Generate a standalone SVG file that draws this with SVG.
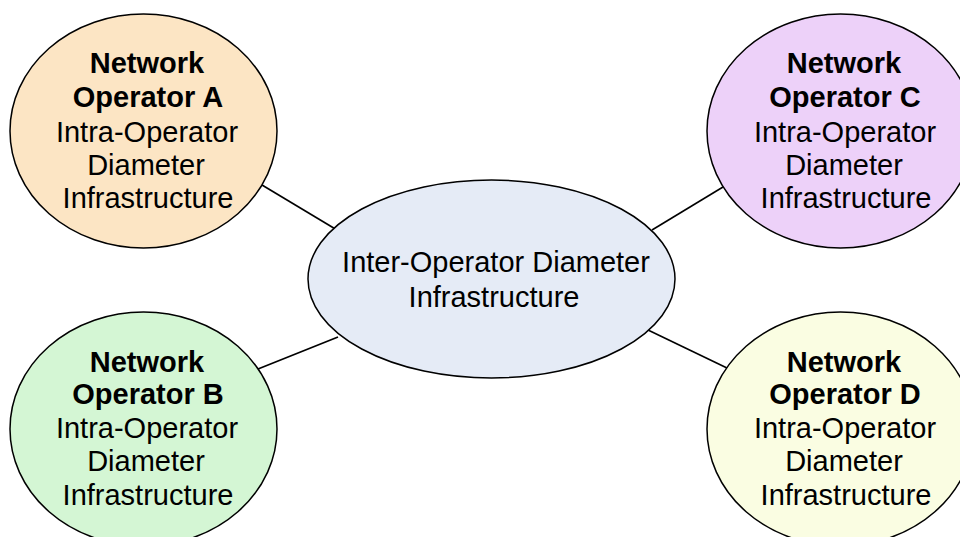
<svg xmlns="http://www.w3.org/2000/svg" width="960" height="537" viewBox="0 0 960 537">
<style>
.node{stroke:#000;stroke-width:1.5}
.t{font-family:"Liberation Sans",Arial,sans-serif;font-size:29px;fill:#000;text-anchor:middle}
.b{font-weight:bold}
.conn line{stroke:#000;stroke-width:1.6}
</style>
<rect width="960" height="537" fill="#fff"/>
<g id="connectors" class="conn">
<line x1="262" y1="185" x2="337" y2="230"/>
<line x1="258" y1="369" x2="338" y2="337"/>
<line x1="652" y1="230" x2="723" y2="187"/>
<line x1="648" y1="330" x2="727" y2="368"/>
</g>
<g id="center">
<ellipse class="node" cx="491.5" cy="279" rx="183.5" ry="99" fill="#E5EBF6"/>
<text class="t" x="496" y="272">Inter-Operator Diameter</text>
<text class="t" x="494" y="307">Infrastructure</text>
</g>
<g id="opA">
<ellipse class="node" cx="143.5" cy="131" rx="133.5" ry="117" fill="#FCE5C4"/>
<text class="t b" x="147" y="73">Network</text>
<text class="t b" x="148" y="107">Operator A</text>
<text class="t" x="147" y="142">Intra-Operator</text>
<text class="t" x="146" y="175">Diameter</text>
<text class="t" x="148" y="208">Infrastructure</text>
</g>
<g id="opB">
<ellipse class="node" cx="143.5" cy="429" rx="133.5" ry="117" fill="#D4F6D4"/>
<text class="t b" x="147" y="372">Network</text>
<text class="t b" x="148" y="404">Operator B</text>
<text class="t" x="147" y="438">Intra-Operator</text>
<text class="t" x="146" y="471">Diameter</text>
<text class="t" x="148" y="505">Infrastructure</text>
</g>
<g id="opC">
<ellipse class="node" cx="840.5" cy="131" rx="133.5" ry="117" fill="#EDD1F9"/>
<text class="t b" x="844" y="73">Network</text>
<text class="t b" x="845" y="107">Operator C</text>
<text class="t" x="845" y="142">Intra-Operator</text>
<text class="t" x="844" y="175">Diameter</text>
<text class="t" x="846" y="208">Infrastructure</text>
</g>
<g id="opD">
<ellipse class="node" cx="840.5" cy="429" rx="133.5" ry="117" fill="#FAFDE2"/>
<text class="t b" x="844" y="372">Network</text>
<text class="t b" x="845" y="404">Operator D</text>
<text class="t" x="845" y="438">Intra-Operator</text>
<text class="t" x="844" y="471">Diameter</text>
<text class="t" x="846" y="505">Infrastructure</text>
</g>
</svg>
